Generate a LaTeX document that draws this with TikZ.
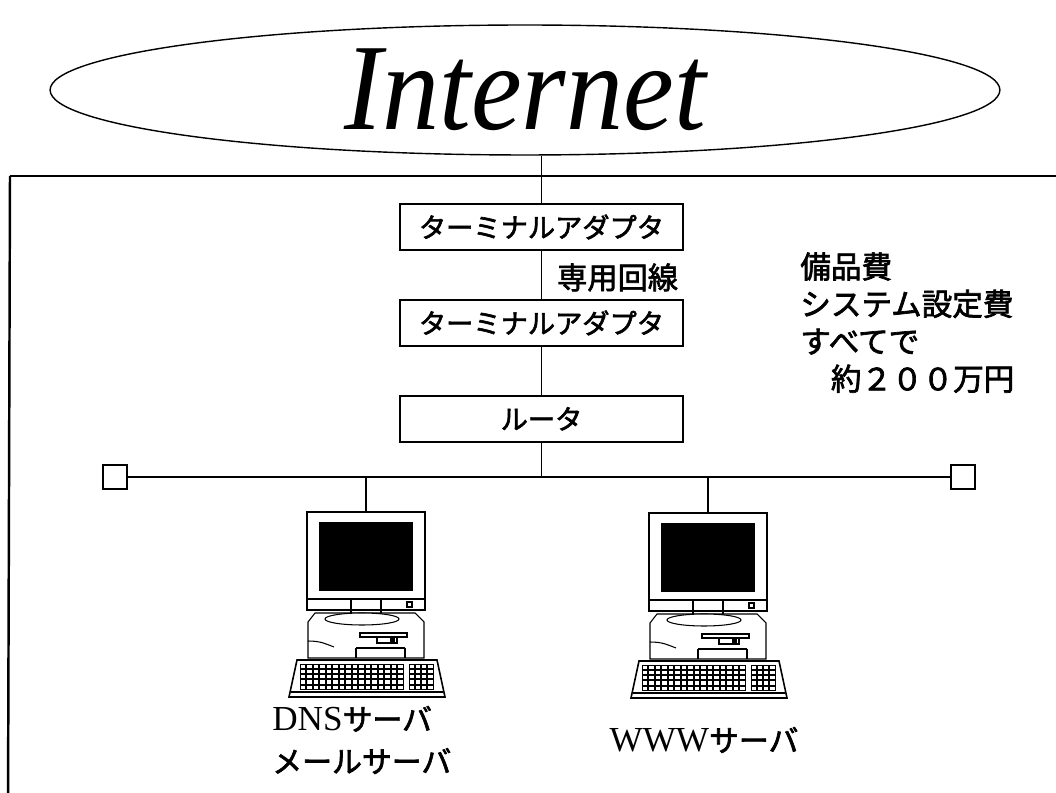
\documentclass[tikz,border=0pt]{standalone}
\usepackage{fontspec}
\setmainfont{Liberation Serif}
\newfontfamily\jp{Noto Sans CJK JP}[RawFeature={embolden=2.2}]
\usetikzlibrary{positioning,shapes.geometric}

% japanese part of a server name
\newcommand\srvkana[1]{{\jp\fontsize{17}{24}\selectfont #1}}

\tikzset{
  pcline/.style={line width=0.6pt},
  keyline/.style={line width=0.3pt},
  % one desktop machine, origin at the top of the monitor
  pics/server/.style={code={
    \coordinate (-top) at (0,0);
    \coordinate (-bottom) at (0,185);
    % monitor
    \draw[pcline] (-59,0) rectangle (59,98);
    \fill (-47,10) rectangle (47,79);
    \draw[pcline] (-59,87) -- (59,87);
    \draw[pcline] (-15,87) -- (-15,104) (15,87) -- (15,104);
    \draw[pcline] (41,90) rectangle (46,95);
    % case
    \draw[pcline] (-51,101) -- (49,101) -- (58,110) -- (58,146) -- (-58,146) -- (-58,110) -- cycle;
    \draw[pcline,fill=white] (-4,107) ellipse [x radius=37, y radius=6];
    \draw[pcline] (-58,129) .. controls (-45,129) and (-40,132) .. (-32,135);
    \draw[pcline] (-6,121) rectangle (41,125);
    \draw[pcline] (11,125) rectangle (31,131);
    \fill (24,126) rectangle (29,130);
    \draw[pcline] (-10,136) -- (39,136);
    \draw[pcline] (-10,136) -- (-10,146) (39,136) -- (39,146);
    % keyboard
    \draw[line width=0.9pt] (-69,148) -- (71,148) -- (79,185) -- (-77,185) -- cycle;
    \draw[pcline] (-75,180) -- (77,180);
    \foreach \r in {0,...,4}{
      \foreach \c in {0,...,15}
        \draw[keyline] (-66+\c*6.5,152+\r*5.2) rectangle ++(5.5,4.2);
      \foreach \c in {0,...,3}
        \draw[keyline] (43+\c*6.2,152+\r*5.2) rectangle ++(5.2,4.2);
    }
  }}
}

\begin{document}
\begin{tikzpicture}[x=0.02cm,y=-0.02cm,node distance=0.96cm,
  wire/.style={line width=0.8pt},
  outerline/.style={line width=1.4pt},
  tabox/.style={draw,line width=1.1pt,minimum width=5.66cm,minimum height=0.92cm,
    inner sep=0pt,font=\jp\fontsize{15.5}{18}\selectfont},
  term/.style={draw,line width=1.2pt,fill=white,minimum size=0.48cm,inner sep=0pt},
  jplabel/.style={font=\jp\fontsize{17.2}{20}\selectfont,inner sep=0pt},
  srvname/.style={font=\fontsize{20}{24}\selectfont,inner sep=0pt}]
  \useasboundingbox (0,0) rectangle (1056,793);
  \clip (0,0) rectangle (1056,793);

  \node[draw,ellipse,line width=0.8pt,minimum width=19cm,minimum height=2.6cm,
    label={[font=\itshape\fontsize{65}{70}\selectfont]center:\scalebox{1}[1.08]{Internet}}] (inet) at (525,90) {};

  % site boundary
  \draw[outerline] (10,176) -- (1070,176);
  \draw[outerline] (10,176) -- (8,810);

  \node[tabox] (ta1) at (541.5,227) {ターミナルアダプタ};
  \node[tabox] (ta2) [below=of ta1] {ターミナルアダプタ};
  \node[tabox] (router) [below=of ta2] {ルータ};

  \node[term] (termL) at (115,477) {};
  \node[term] (termR) at (963,477) {};

  \pic (dns) at (366,512) {server};
  \pic (www) at (708,513) {server};

  \draw[wire] (inet.south -| ta1) -- (ta1);
  \draw[wire] (ta1) -- node[jplabel,right=0.3cm,yshift=-0.05cm] {専用回線} (ta2);
  \draw[wire] (ta2) -- (router);
  \draw[wire] (router) -- (router |- termL);
  \draw[line width=1pt] (termL) -- (termR);
  \draw[wire] (dns-top |- termL) -- (dns-top);
  \draw[wire] (www-top |- termL) -- (www-top);

  \node[jplabel,anchor=north west,align=left,font=\jp\fontsize{17.4}{21.3}\selectfont] (cost) at (800,252)
    {備品費\\システム設定費\\すべてで\\　約２００万円};

  \node[srvname,align=left,anchor=west] (dnsname) at (272,740) {DNS\srvkana{サーバ}\\\srvkana{メールサーバ}};
  \node[srvname] (wwwname) at (704,740) {WWW\srvkana{サーバ}};
\end{tikzpicture}
\end{document}
